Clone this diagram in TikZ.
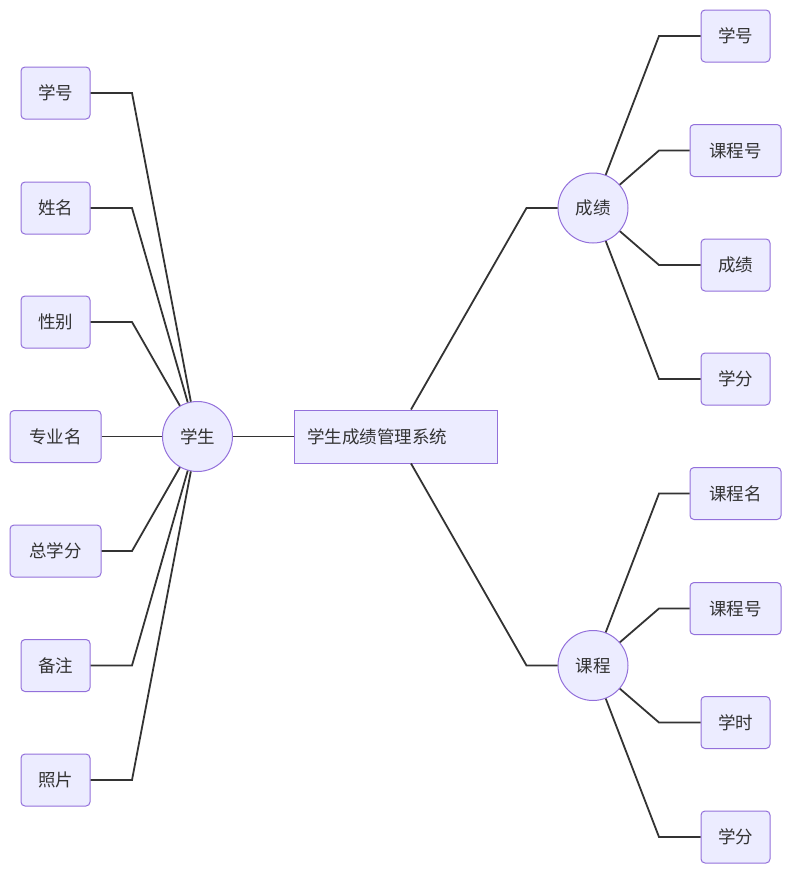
\documentclass[tikz,border=0pt]{standalone}
\usepackage{fontspec}
\setmainfont{Noto Sans CJK SC}
\usepackage{tikz}
\usetikzlibrary{positioning}
\definecolor{nodefill}{HTML}{ECECFF}
\definecolor{nodeline}{HTML}{9370DB}
\definecolor{linkcol}{HTML}{333333}

\begin{document}
\begin{tikzpicture}[
x=1pt, y=-1pt,
every node/.style={font=\fontsize{17.5}{21}\selectfont, text=linkcol},
box/.style={draw=nodeline, fill=nodefill, line width=1pt, rounded corners=4pt, minimum width=69pt, minimum height=52pt, inner sep=0pt},
widebox/.style={box, minimum width=91pt},
circ/.style={circle, draw=nodeline, fill=nodefill, line width=1pt, minimum size=70pt, inner sep=0pt},
sysbox/.style={draw=nodeline, fill=nodefill, line width=1pt, minimum height=53pt, text width=177pt, inner xsep=13pt, align=left},
link/.style={draw=linkcol, line width=1.8pt}
]
\useasboundingbox (0,0) rectangle (791,873);

% centre
\node[sysbox] (sys) at (395.5,436.5) {学生成绩管理系统};
\node[circ] (stu) at (197.5,436.5) {学生};
\node[circ] (score) at (593,208) {成绩};
\node[circ] (course) at (593,665.5) {课程};

% student attributes
\node[box] (sNo) at (55.5,93) {学号};
\node[box] (sName) at (55.5,208) {姓名};
\node[box] (sSex) at (55.5,322) {性别};
\node[widebox] (sMajor) at (55.5,436.5) {专业名};
\node[widebox] (sCredit) at (55.5,551) {总学分};
\node[box] (sNote) at (55.5,665.5) {备注};
\node[box] (sPhoto) at (55.5,780) {照片};

% score attributes
\node[box] (gNo) at (735.5,36) {学号};
\node[widebox] (gCourse) at (735.5,150.5) {课程号};
\node[box] (gScore) at (735.5,265) {成绩};
\node[box] (gCredit) at (735.5,379) {学分};

% course attributes
\node[widebox] (cName) at (735.5,493.5) {课程名};
\node[widebox] (cNo) at (735.5,608.5) {课程号};
\node[box] (cHours) at (735.5,722.5) {学时};
\node[box] (cCredit) at (735.5,837) {学分};

\coordinate (lbend) at (132,0);
\coordinate (rbend) at (659,0);

% links
\draw[link] (stu) -- (sys);
\draw[link] ([xshift=15.5pt]sys.north) -- ([xshift=-31pt]score.west) -- (score);
\draw[link] ([xshift=15.5pt]sys.south) -- ([xshift=-31pt]course.west) -- (course);

\draw[link] (sNo.east) -- (sNo.east -| lbend) -- (stu);
\draw[link] (sName.east) -- (sName.east -| lbend) -- (stu);
\draw[link] (sSex.east) -- (sSex.east -| lbend) -- (stu);
\draw[link] (sMajor.east) -- (stu);
\draw[link] (sCredit.east) -- (sCredit.east -| lbend) -- (stu);
\draw[link] (sNote.east) -- (sNote.east -| lbend) -- (stu);
\draw[link] (sPhoto.east) -- (sPhoto.east -| lbend) -- (stu);

\draw[link] (score) -- (gNo.west -| rbend) -- (gNo.west);
\draw[link] (score) -- (gCourse.west -| rbend) -- (gCourse.west);
\draw[link] (score) -- (gScore.west -| rbend) -- (gScore.west);
\draw[link] (score) -- (gCredit.west -| rbend) -- (gCredit.west);

\draw[link] (course) -- (cName.west -| rbend) -- (cName.west);
\draw[link] (course) -- (cNo.west -| rbend) -- (cNo.west);
\draw[link] (course) -- (cHours.west -| rbend) -- (cHours.west);
\draw[link] (course) -- (cCredit.west -| rbend) -- (cCredit.west);
\end{tikzpicture}
\end{document}
